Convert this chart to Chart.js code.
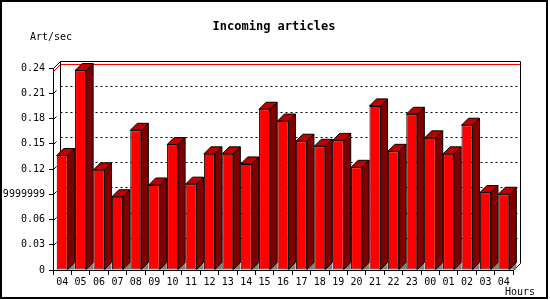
<!DOCTYPE html>
<html>
<head>
<meta charset="utf-8">
<script src="https://cdn.jsdelivr.net/npm/chart.js@4/dist/chart.umd.min.js"></script>
<style>
  html, body { margin: 0; padding: 0; background: #fff; }
  #wrap { width: 550px; height: 300px; }
</style>
</head>
<body>
<div id="wrap"><canvas id="chart" width="550" height="300"></canvas></div>
<script>
// Podatki
const hours = ['04','05','06','07','08','09','10','11','12','13','14','15','16',
               '17','18','19','20','21','22','23','00','01','02','03','04'];
const artPerSec = [0.136, 0.237, 0.119, 0.087, 0.166, 0.101, 0.149, 0.102, 0.138,
                   0.138, 0.126, 0.191, 0.177, 0.153, 0.147, 0.154, 0.122, 0.195,
                   0.141, 0.185, 0.157, 0.138, 0.172, 0.092, 0.090];
const yTickLabels = ['0', '0.03', '0.06', '0.09999999999999999', '0.12',
                     '0.15', '0.18', '0.21', '0.24'];

const depth = 7;
const mono = 'DejaVu Sans Mono';

Chart.defaults.font.family = mono;
Chart.defaults.font.size = 10;
Chart.defaults.color = '#000';

// Zadnja stena, mreža in črta maksimuma
const walls = {
  id: 'walls',
  beforeDatasetsDraw(chart) {
    const { ctx, chartArea: a, scales: { y } } = chart;
    const L = a.left + 0.5, R = a.right + 0.5, T = a.top + 0.5, B = a.bottom + 0.5;
    ctx.save();
    ctx.lineWidth = 1;

    // črtkana mreža
    ctx.strokeStyle = '#000';
    y.ticks.forEach((t, i) => {
      if (i === 0 || i === y.ticks.length - 1) return;
      const py = Math.round(y.getPixelForValue(t.value)) + 0.5;
      ctx.setLineDash([]);
      ctx.beginPath();
      ctx.moveTo(L, py);
      ctx.lineTo(L + 3, py - 3);
      ctx.stroke();
      ctx.setLineDash([2, 3]);
      ctx.beginPath();
      ctx.moveTo(L + depth, py - depth);
      ctx.lineTo(R + depth, py - depth);
      ctx.stroke();
    });
    ctx.setLineDash([]);

    // rdeča črta maksimuma
    const my = Math.round(y.getPixelForValue(Math.max(...artPerSec))) + 0.5;
    ctx.strokeStyle = '#f00';
    ctx.beginPath();
    ctx.moveTo(L, my);
    ctx.lineTo(L + depth, my - depth);
    ctx.lineTo(R + depth, my - depth);
    ctx.stroke();

    // okvir
    ctx.strokeStyle = '#000';
    ctx.beginPath();
    ctx.moveTo(L, T);
    ctx.lineTo(L + depth, T - depth);
    ctx.lineTo(R + depth, T - depth);
    ctx.lineTo(R + depth, B - depth);
    ctx.lineTo(R, B);
    ctx.moveTo(L + depth, T - depth);
    ctx.lineTo(L + depth, B - depth);
    ctx.stroke();
    ctx.restore();
  },
  // 3D stolpci
  afterDatasetsDraw(chart) {
    const ctx = chart.ctx;
    ctx.save();
    ctx.lineWidth = 1;
    ctx.strokeStyle = '#000';
    chart.getDatasetMeta(0).data.forEach(bar => {
      const { x, y, base, width } = bar.getProps(['x', 'y', 'base', 'width'], true);
      const l = x - width / 2, r = x + width / 2;
      // senca na tleh
      ctx.fillStyle = '#808080';
      ctx.beginPath();
      ctx.moveTo(r, base);
      ctx.lineTo(r + depth, base - depth);
      ctx.lineTo(r + depth, base);
      ctx.closePath();
      ctx.fill();
      // stranica
      ctx.fillStyle = '#800000';
      ctx.beginPath();
      ctx.moveTo(r, y);
      ctx.lineTo(r + depth, y - depth);
      ctx.lineTo(r + depth, base - depth);
      ctx.lineTo(r, base);
      ctx.closePath();
      ctx.fill();
      ctx.stroke();
      // vrh
      ctx.fillStyle = '#c00000';
      ctx.beginPath();
      ctx.moveTo(l, y);
      ctx.lineTo(l + depth, y - depth);
      ctx.lineTo(r + depth, y - depth);
      ctx.lineTo(r, y);
      ctx.closePath();
      ctx.fill();
      ctx.stroke();
    });
    ctx.restore();
  },
  // napisi in okvir slike
  afterDraw(chart) {
    const ctx = chart.ctx;
    ctx.save();
    ctx.fillStyle = '#000';
    ctx.textBaseline = 'middle';
    ctx.font = 'bold 12px "' + mono + '"';
    ctx.textAlign = 'center';
    ctx.fillText('Incoming articles', 274, 27);
    ctx.font = '10px "' + mono + '"';
    ctx.textAlign = 'left';
    ctx.fillText('Art/sec', 30, 37);
    ctx.fillText('Hours', 505, 292);
    ctx.lineWidth = 2;
    ctx.strokeStyle = '#000';
    ctx.strokeRect(1, 1, 546, 297);
    ctx.restore();
  }
};

new Chart(document.getElementById('chart'), {
  type: 'bar',
  data: {
    labels: hours,
    datasets: [{
      data: artPerSec,
      backgroundColor: '#ff0000',
      borderColor: '#000',
      borderWidth: 1,
      borderSkipped: false,
      barPercentage: 0.6,
      categoryPercentage: 1
    }]
  },
  options: {
    responsive: false,
    animation: false,
    layout: { padding: { left: 0, right: 37, top: 68, bottom: 0 } },
    plugins: { legend: { display: false }, tooltip: { enabled: false } },
    scales: {
      x: {
        afterFit(s) { s.height = 30; },
        grid: { drawOnChartArea: false, drawTicks: true, tickLength: 5, color: '#000' },
        border: { display: true, color: '#000' },
        ticks: { autoSkip: false, maxRotation: 0, padding: 1 }
      },
      y: {
        min: 0,
        max: 0.24,
        afterFit(s) { s.width = 53; },
        grid: { drawOnChartArea: false, drawTicks: true, tickLength: 4, color: '#000' },
        border: { display: true, color: '#000' },
        ticks: {
          stepSize: 0.03,
          padding: 4,
          callback: (v, i) => yTickLabels[i]
        }
      }
    }
  },
  plugins: [walls]
});
</script>
</body>
</html>
